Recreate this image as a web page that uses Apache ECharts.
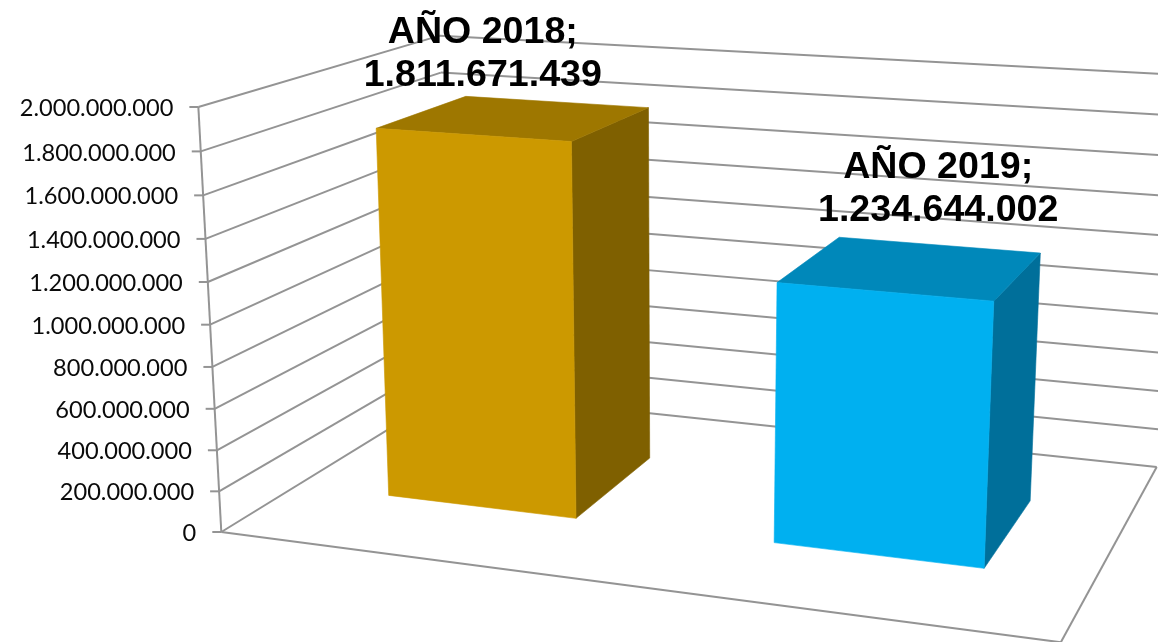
<!DOCTYPE html>
<html>
<head>
<meta charset="utf-8">
<script src="https://cdn.jsdelivr.net/npm/echarts@6/dist/echarts.min.js"></script>
<style>html,body{margin:0;padding:0;background:#fff}#c{width:1158px;height:642px}</style>
</head>
<body>
<div id="c"></div>
<script>
// ---- data ----
var categories = ['AÑO 2018', 'AÑO 2019'];
var seriesValues = [1811671439, 1234644002];
var tickValues = [0, 200000000, 400000000, 600000000, 800000000, 1000000000, 1200000000, 1400000000, 1600000000, 1800000000, 2000000000];
var tickLabels = ['0', '200.000.000', '400.000.000', '600.000.000', '800.000.000', '1.000.000.000', '1.200.000.000', '1.400.000.000', '1.600.000.000', '1.800.000.000', '2.000.000.000'];
var dataLabels = ['1.811.671.439', '1.234.644.002'];

// ---- presentation ----
var faceColors = [
  { front: '#CC9900', top: '#9E7700', side: '#7F6000' },
  { front: '#00B0F0', top: '#0088BA', side: '#006F9A' }
];
var labelOffsets = [[-33, -64], [26, -78]];
var GRID = '#949494';

// Pinhole projection of the 3D box: x (0..1 across), v (0..1 value), z (0..1 depth)
var O = [221.3, 532];
var VX = [-6265, -320], KX = -0.1146;
var VV = [680, 9030], KV = -0.04763;
var VZ = [1576, -300], KZ = 0.2024;
function project(x, v, z) {
  var d = 1 + KX * x + KV * v + KZ * z;
  return [
    (O[0] + KX * x * VX[0] + KV * v * VV[0] + KZ * z * VZ[0]) / d,
    (O[1] + KX * x * VX[1] + KV * v * VV[1] + KZ * z * VZ[1]) / d
  ];
}
function normV(params, api, value) {
  var cs = params.coordSys;
  return (cs.y + cs.height - api.coord([0, value])[1]) / cs.height;
}
function line(a, b) {
  return {
    type: 'line',
    shape: { x1: a[0], y1: a[1], x2: b[0], y2: b[1] },
    style: { stroke: GRID, lineWidth: 2 }
  };
}
function poly(points, color) {
  return {
    type: 'polygon',
    shape: { points: points },
    style: { fill: color, stroke: color, lineWidth: 0.6 }
  };
}

function renderFrame(params, api) {
  return {
    type: 'group',
    children: [
      line(project(0, 0, 0), project(0, 1, 0)),
      line(project(0, 0, 0), project(1, 0, 0)),
      line(project(1, 0, 0), project(1, 0, 1))
    ]
  };
}

function renderTick(params, api) {
  var v = normV(params, api, api.value(1));
  var a = project(0, v, 0), b = project(0, v, 1), c = project(1, v, 1);
  return {
    type: 'group',
    children: [
      line(a, b),
      line(b, c),
      line([a[0] - 9, a[1]], a),
      {
        type: 'text',
        style: {
          text: tickLabels[params.dataIndex],
          x: a[0] - 25,
          y: a[1] + 1.5,
          align: 'right',
          verticalAlign: 'middle',
          font: '23.6px Lato, "Noto Sans", sans-serif',
          fill: '#0a0a0a'
        }
      }
    ]
  };
}

function renderBar(params, api) {
  var cs = params.coordSys;
  var i = api.value(0);
  var val = api.value(1);
  var xc = (api.coord([i, val])[0] - cs.x) / cs.width;
  var half = api.size([1, 0])[0] / cs.width / 4;
  var v = normV(params, api, val);
  var x0 = xc - half, x1 = xc + half, z0 = 0.3, z1 = 0.7;
  var col = faceColors[i];
  var anchor = project(xc, v, 0.5);
  var off = labelOffsets[i];
  return {
    type: 'group',
    children: [
      poly([project(x1, 0, z0), project(x1, 0, z1), project(x1, v, z1), project(x1, v, z0)], col.side),
      poly([project(x0, v, z0), project(x1, v, z0), project(x1, v, z1), project(x0, v, z1)], col.top),
      poly([project(x0, 0, z0), project(x1, 0, z0), project(x1, v, z0), project(x0, v, z0)], col.front),
      {
        type: 'text',
        z2: 10,
        style: {
          text: categories[i] + ';\n' + dataLabels[i],
          x: anchor[0] + off[0],
          y: anchor[1] + off[1],
          align: 'center',
          verticalAlign: 'middle',
          lineHeight: 43,
          font: 'bold 37.6px "Liberation Sans", Arial, sans-serif',
          fill: '#000000'
        }
      }
    ]
  };
}

var chart = echarts.init(document.getElementById('c'), null, { renderer: 'canvas' });
chart.setOption({
  animation: false,
  backgroundColor: '#ffffff',
  grid: { left: 0, right: 0, top: 0, bottom: 0 },
  xAxis: { type: 'category', data: categories, show: false },
  yAxis: { type: 'value', min: 0, max: 2000000000, interval: 200000000, show: false },
  series: [
    {
      type: 'custom', name: 'frame', silent: true, z: 1,
      renderItem: renderFrame,
      data: [[0, 0]]
    },
    {
      type: 'custom', name: 'ticks', silent: true, z: 2,
      renderItem: renderTick,
      data: tickValues.map(function (t) { return [0, t]; })
    },
    {
      type: 'custom', name: 'bars', silent: true, z: 3,
      renderItem: renderBar,
      data: seriesValues.map(function (val, i) { return [i, val]; })
    }
  ]
});
</script>
</body>
</html>
